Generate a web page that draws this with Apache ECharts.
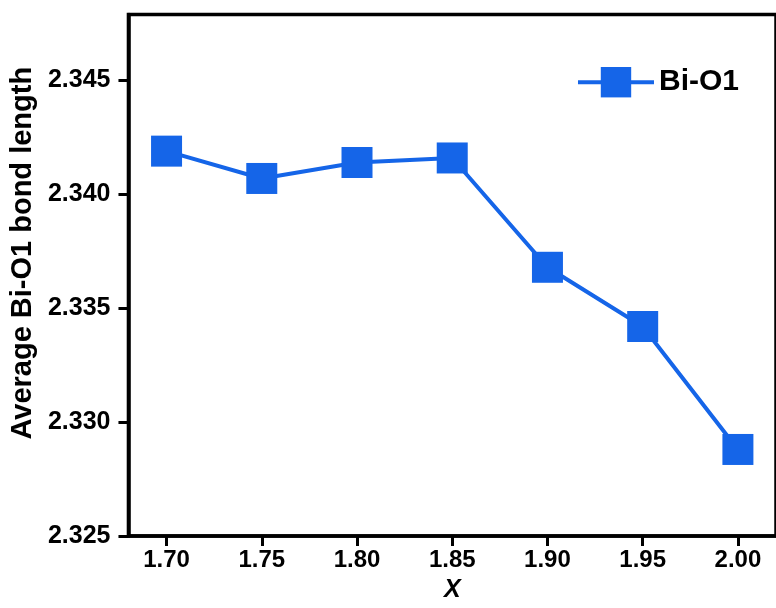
<!DOCTYPE html>
<html>
<head>
<meta charset="utf-8">
<script src="https://cdn.jsdelivr.net/npm/echarts@6/dist/echarts.min.js"></script>
</head>
<body style="margin:0;background:#fff">
<div id="main" style="width:776px;height:608px;"></div>
<script type="text/javascript">
    // data
    var xValues = [1.70, 1.75, 1.80, 1.85, 1.90, 1.95, 2.00];
    var bondLength = [2.3419, 2.3407, 2.3414, 2.3416, 2.3368, 2.3342, 2.3288];
    var xTicks = [1.70, 1.75, 1.80, 1.85, 1.90, 1.95, 2.00];
    var yTicks = [2.325, 2.330, 2.335, 2.340, 2.345];

    var blue = '#1565E8';
    var font = 'Liberation Sans, Arial, sans-serif';

    var points = xValues.map(function (x, i) { return [x, bondLength[i]]; });

    var myChart = echarts.init(document.getElementById('main'));
    var option = {
        animation: false,
        grid: {
            left: 124,
            right: -3,
            top: 14.5,
            bottom: 65,
            show: true,
            borderColor: '#000',
            borderWidth: 3.5
        },
        legend: {
            right: 32,
            top: 62,
            itemWidth: 76,
            itemHeight: 38,
            itemGap: 6,
            lineStyle: { width: 4 },
            textStyle: { fontFamily: font, fontWeight: 'bold', fontSize: 30, color: '#000' },
            data: ['Bi-O1']
        },
        xAxis: {
            type: 'value',
            min: 1.68,
            max: 2.02,
            name: 'X',
            nameLocation: 'middle',
            nameGap: 42,
            nameTextStyle: { fontFamily: font, fontWeight: 'bold', fontStyle: 'italic', fontSize: 25, color: '#000' },
            splitLine: { show: false },
            axisLine: { lineStyle: { color: '#000', width: 3.5 } },
            axisTick: { customValues: xTicks, length: 10, lineStyle: { color: '#000', width: 3 } },
            axisLabel: {
                customValues: xTicks,
                margin: 12,
                fontFamily: font, fontWeight: 'bold', fontSize: 24, color: '#000',
                formatter: function (v) { return v.toFixed(2); }
            }
        },
        yAxis: {
            type: 'value',
            min: 2.325,
            max: 2.3479,
            name: 'Average Bi-O1 bond length',
            nameLocation: 'middle',
            nameGap: 88,
            nameTextStyle: { fontFamily: font, fontWeight: 'bold', fontSize: 29, color: '#000', padding: [0, 0, 0, 44] },
            splitLine: { show: false },
            axisLine: { lineStyle: { color: '#000', width: 3.5 } },
            axisTick: { customValues: yTicks, length: 10, lineStyle: { color: '#000', width: 3 } },
            axisLabel: {
                customValues: yTicks,
                margin: 18,
                fontFamily: font, fontWeight: 'bold', fontSize: 25, color: '#000',
                formatter: function (v) { return v.toFixed(3); }
            }
        },
        series: [
            {
                name: 'Bi-O1',
                type: 'line',
                data: points,
                symbol: 'rect',
                symbolSize: 31,
                itemStyle: { color: blue },
                lineStyle: { color: blue, width: 4 }
            }
        ]
    };
    myChart.setOption(option);
</script>
</body>
</html>
